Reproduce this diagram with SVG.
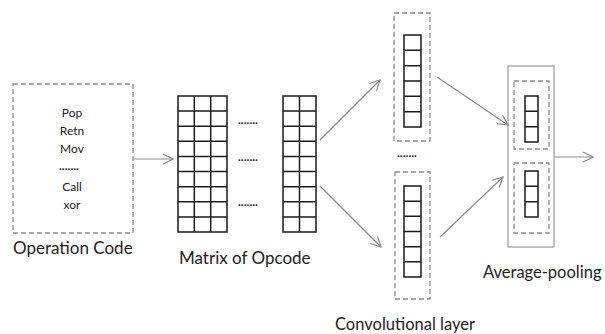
<svg xmlns="http://www.w3.org/2000/svg" width="605" height="334" viewBox="0 0 605 334">
<defs>
<style>
.dash{fill:none;stroke:#8c8c8c;stroke-width:1.3;stroke-dasharray:5,3}
.grid{fill:#fff;stroke:#1a1a1a;stroke-width:1.5}
.arr{fill:none;stroke:#8a8a8a;stroke-width:1.2;marker-end:url(#ah)}
.t{font-family:Lato,"Open Sans",sans-serif;fill:#222}
.s{font-size:12px;text-anchor:middle}
.l{font-size:17px}
.dots{font-family:Lato,sans-serif;font-size:12px;font-weight:bold;fill:#222}
</style>
<marker id="ah" viewBox="0 0 12 12" refX="11" refY="6" markerWidth="12" markerHeight="12" markerUnits="userSpaceOnUse" orient="auto">
<path d="M1,1 L11,6 L1,11" fill="none" stroke="#8a8a8a" stroke-width="1.2"/>
</marker>
</defs>
<rect width="605" height="334" fill="#fff"/>

<g id="operation-code">
<rect class="dash" x="13" y="84" width="120" height="149"/>
<text class="t s" x="72" y="117">Pop</text>
<text class="t s" x="72" y="135">Retn</text>
<text class="t s" x="72" y="153">Mov</text>
<text class="dots" x="59" y="170">.......</text>
<text class="t s" x="72" y="191">Call</text>
<text class="t s" x="72" y="209">xor</text>
<text class="t l" x="13" y="254">Operation Code</text>
</g>

<g id="matrix-of-opcode">
<g class="grid">
<rect x="178" y="96" width="49" height="136"/>
<path d="M194.3,96V232M210.7,96V232M178,111.1H227M178,126.2H227M178,141.3H227M178,156.4H227M178,171.6H227M178,186.7H227M178,201.8H227M178,216.9H227"/>
<rect x="283" y="96" width="33" height="136"/>
<path d="M299.5,96V232M283,111.1H316M283,126.2H316M283,141.3H316M283,156.4H316M283,171.6H316M283,186.7H316M283,201.8H316M283,216.9H316"/>
</g>
<text class="dots" x="238" y="124">.......</text>
<text class="dots" x="238" y="161">.......</text>
<text class="dots" x="238" y="206">.......</text>
<text class="t l" x="179" y="264">Matrix of Opcode</text>
</g>

<g id="convolutional-layer">
<rect class="dash" x="394" y="13" width="36" height="128"/>
<g class="grid">
<rect x="404" y="35" width="17" height="92"/>
<path d="M404,50.3H421M404,65.7H421M404,81H421M404,96.3H421M404,111.7H421"/>
</g>
<text class="dots" x="397" y="157">.......</text>
<rect class="dash" x="395" y="172" width="35" height="127"/>
<g class="grid">
<rect x="404" y="186" width="17" height="91"/>
<path d="M404,201.2H421M404,216.3H421M404,231.5H421M404,246.7H421M404,261.8H421"/>
</g>
<text class="t l" x="335" y="330" style="font-size:16.5px">Convolutional layer</text>
</g>

<g id="average-pooling">
<rect x="508" y="66" width="46" height="181" fill="none" stroke="#999" stroke-width="1.2"/>
<rect class="dash" x="514" y="81" width="35" height="68"/>
<g class="grid">
<rect x="525" y="96" width="13" height="46"/>
<path d="M525,111.3H538M525,126.7H538"/>
</g>
<rect class="dash" x="514" y="163" width="35" height="70"/>
<g class="grid">
<rect x="525" y="171" width="13" height="46"/>
<path d="M525,186.3H538M525,201.7H538"/>
</g>
<text class="t l" x="483" y="278" style="font-size:16.5px">Average-pooling</text>
</g>

<g id="connectors">
<line class="arr" x1="134" y1="159" x2="173" y2="159"/>
<line class="arr" x1="320" y1="140" x2="380" y2="80"/>
<line class="arr" x1="320" y1="186" x2="381" y2="247"/>
<line class="arr" x1="437" y1="77" x2="508" y2="125"/>
<line class="arr" x1="440" y1="237" x2="503" y2="177"/>
<line class="arr" x1="554" y1="157" x2="593" y2="157"/>
</g>
</svg>
